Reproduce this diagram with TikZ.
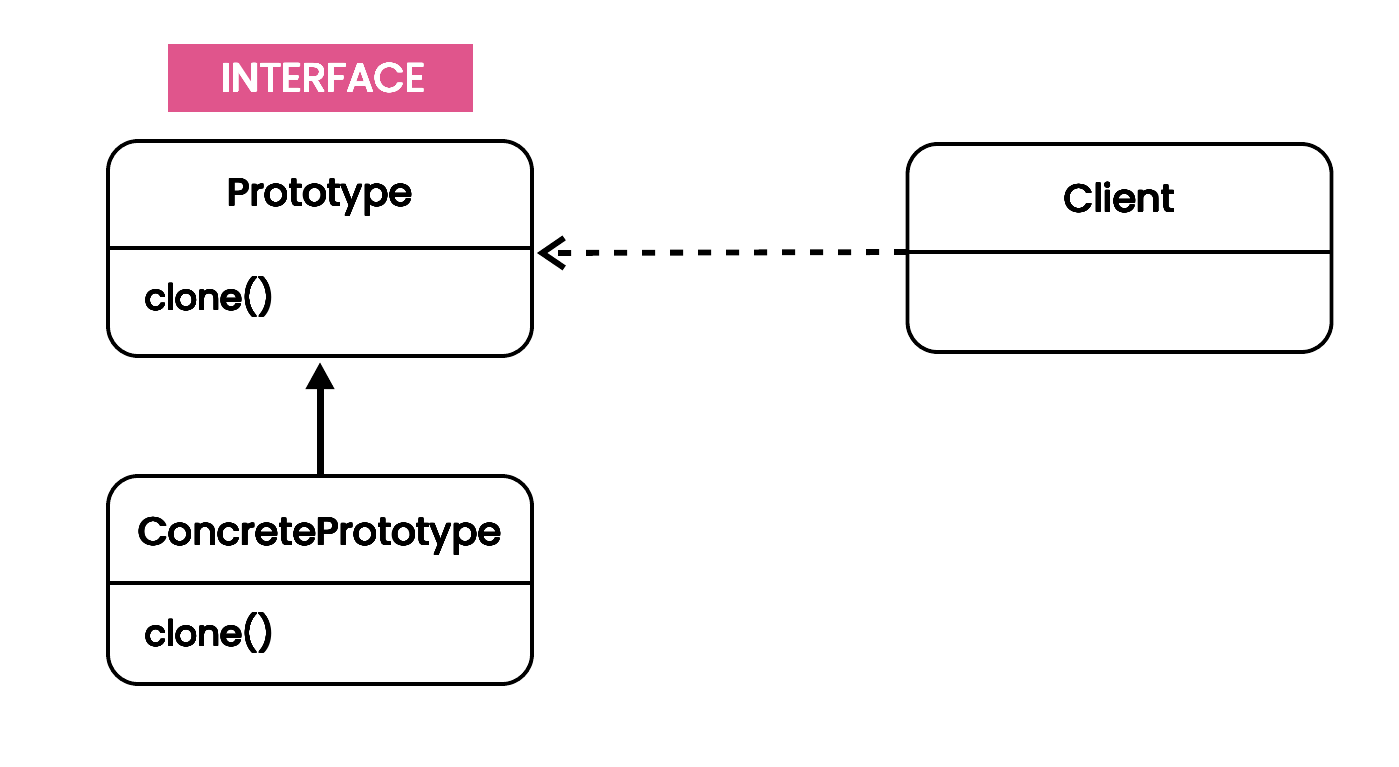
\documentclass[tikz,border=0pt]{standalone}
\usepackage{fontspec}
\setmainfont{Poppins}
\usepackage{contour}
\contourlength{0.6pt}
\contournumber{24}
\usetikzlibrary{arrows.meta}
\definecolor{tagpink}{HTML}{E0558C}
\tikzset{
  classbox/.style={draw, line width=3.8pt, rounded corners=30pt, minimum width=424pt, inner sep=0pt},
  divider/.style={line width=3.8pt},
  title/.style={font=\fontsize{38.4}{42}\selectfont, inner sep=0pt, anchor=base},
  member/.style={font=\fontsize{35.3}{40}\selectfont, inner sep=0pt, anchor=base west},
  tag/.style={fill=tagpink, minimum width=305pt, minimum height=68pt, inner sep=0pt},
  tagtext/.style={text=white, font=\fontsize{40.2}{44}\selectfont, inner sep=0pt, anchor=base},
  depends/.style={line width=5.8pt, dash pattern=on 13pt off 15pt,
    -{Straight Barb[length=22pt, width=30pt, line width=5.8pt]}},
  inherits/.style={line width=7pt, -{Triangle[length=27pt, width=27pt]}}
}
\begin{document}
\begin{tikzpicture}[x=1pt, y=-1pt]
  \useasboundingbox (0,0) rectangle (1399,767);

  % stereotype tag
  \node[tag] (iface) at (320.5,78) {};
  \node[tagtext] (ifaceText) at (323.5,92) {\contour{white}{INTERFACE}};

  % Prototype class
  \node[classbox, minimum height=215pt] (proto) at (320,248.5) {};
  \coordinate (protoL) at (108,248);
  \coordinate (protoR) at (532,248);
  \draw[divider] (protoL) -- (protoR);
  \node[title] (protoName) at (320,206) {\contour{black}{Prototype}};
  \node[member] (protoClone) at (145,310) {\contour{black}{clone()}};

  % ConcretePrototype class
  \node[classbox, minimum height=208pt] (concrete) at (320,580) {};
  \coordinate (concL) at (108,583);
  \coordinate (concR) at (532,583);
  \draw[divider] (concL) -- (concR);
  \node[title] (concName) at (320,545) {\contour{black}{ConcretePrototype}};
  \node[member] (concClone) at (145,646) {\contour{black}{clone()}};

  % Client class
  \node[classbox, minimum height=208pt] (client) at (1119.5,248) {};
  \coordinate (clientL) at (907,252);
  \coordinate (clientR) at (1332,252);
  \draw[divider] (clientL) -- (clientR);
  \node[title] (clientName) at (1119.5,212) {\contour{black}{Client}};

  % relations
  \coordinate (protoHit) at (537,253);
  \draw[depends] (clientL) -- (protoHit);
  \coordinate (protoFoot) at (320,362);
  \draw[inherits] (concrete.north) -- (protoFoot);
\end{tikzpicture}
\end{document}
